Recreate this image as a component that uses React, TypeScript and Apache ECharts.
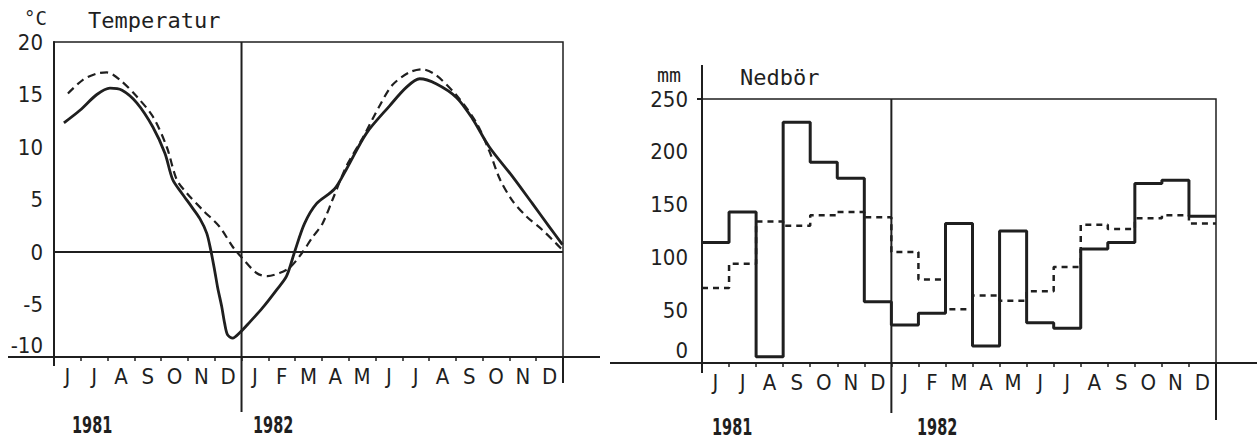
import React, { useEffect, useRef } from 'react';
import * as echarts from 'echarts';

// ---- data ----
const monthLabels = ['J', 'J', 'A', 'S', 'O', 'N', 'D', 'J', 'F', 'M', 'A', 'M', 'J', 'J', 'A', 'S', 'O', 'N', 'D'];
const yearLabels = ['1981', '1982'];

// temperature, [months since 1 June 1981, °C]
const tempMeasured: [number, number][] = [
  [0.37, 12.3], [0.97, 13.5], [1.6, 15.0], [2.09, 15.6], [2.54, 15.4], [3.09, 14.2], [3.69, 11.9],
  [4.14, 9.4], [4.43, 6.9], [4.77, 5.6], [5.14, 4.3], [5.44, 3.2], [5.7, 1.8], [5.85, 0.2],
  [6.0, -1.8], [6.11, -3.4], [6.26, -5.2], [6.37, -6.8], [6.48, -7.9], [6.67, -8.2], [6.93, -7.7],
  [7.3, -6.7], [7.79, -5.3], [8.31, -3.6], [8.68, -2.3], [8.98, 0], [9.35, 2.7], [9.8, 4.6],
  [10.47, 6.0], [10.92, 7.9], [11.66, 11.3], [12.52, 13.9], [13.16, 15.7], [13.65, 16.5],
  [14.28, 16.0], [15.03, 14.7], [15.62, 12.7], [16.25, 10.0], [17.11, 7.2], [17.86, 4.6],
  [18.49, 2.4], [18.98, 0.7],
];
const tempNormal: [number, number][] = [
  [0.52, 15.1], [1.08, 16.4], [1.6, 17.0], [1.97, 17.1], [2.46, 16.4], [3.09, 14.8], [3.69, 12.9],
  [4.21, 10.0], [4.58, 6.9], [4.96, 5.6], [5.55, 4.0], [6.18, 2.4], [6.67, 0.5], [6.93, -0.3],
  [7.56, -2.0], [7.97, -2.3], [8.42, -2.0], [8.79, -1.5], [9.17, -0.4], [9.65, 1.4], [10.02, 2.7],
  [10.4, 5.0], [10.92, 8.2], [11.51, 10.8], [12.15, 13.9], [12.63, 15.9], [13.26, 17.1],
  [13.75, 17.4], [14.28, 16.8], [15.03, 14.9], [15.77, 12.3], [16.25, 9.6], [16.65, 6.9],
  [17.11, 4.9], [17.63, 3.4], [18.23, 2.1], [18.75, 0.8], [18.98, 0.2],
];

// precipitation (mm) per month, Jun 1981 .. Dec 1982
const precipMeasured = [114, 143, 6, 228, 190, 175, 58, 36, 47, 132, 16, 125, 38, 33, 108, 114, 170, 173, 139];
const precipNormal = [71, 94, 134, 130, 140, 143, 138, 105, 79, 51, 64, 59, 68, 91, 131, 127, 137, 140, 132];

// ---- styling ----
const INK = '#1f1f1f';
const NARROW = "'Liberation Sans Narrow', 'DejaVu Sans Condensed', 'Liberation Sans', sans-serif";
const MONO = "'DejaVu Sans Mono', 'Liberation Mono', monospace";

const stepData = (vals: number[]) => [
  ...vals.map((v, i) => [i, v]),
  [vals.length, vals[vals.length - 1]],
];

const catAxis = (gridIndex: number) => ({
  type: 'category',
  gridIndex,
  data: monthLabels,
  boundaryGap: true,
  axisLine: { onZero: false, lineStyle: { color: INK, width: 2 } },
  axisTick: { show: true, length: 4, lineStyle: { color: INK, width: 1.5 } },
  axisLabel: { interval: 0, fontSize: 22, fontFamily: NARROW, color: INK, margin: 8 },
  splitLine: { show: false },
});

const valXAxis = (gridIndex: number) => ({
  type: 'value',
  gridIndex,
  min: 0,
  max: 19,
  show: false,
});

const yLabel = (low: number, raise: number) => ({
  fontSize: 22,
  fontFamily: NARROW,
  color: INK,
  formatter: (v: number) => (v === low ? `{r|${v}}` : `${v}`),
  rich: { r: { fontSize: 22, fontFamily: NARROW, color: INK, padding: [0, 0, raise, 0] } },
});

const option: any = {
  animation: false,
  backgroundColor: '#fff',
  grid: [
    { left: 54, top: 42, width: 509, height: 315, show: true, borderColor: INK, borderWidth: 1.5 },
    { left: 702, top: 99, width: 514, height: 264, show: true, borderColor: INK, borderWidth: 1.5 },
  ],
  xAxis: [catAxis(0), valXAxis(0), catAxis(1), valXAxis(1)],
  yAxis: [
    {
      type: 'value', gridIndex: 0, min: -10, max: 20, interval: 5,
      axisLine: { show: true, lineStyle: { color: INK, width: 2 } },
      axisTick: { show: false }, splitLine: { show: false },
      axisLabel: { ...yLabel(-10, 24), margin: 11 },
    },
    {
      type: 'value', gridIndex: 1, min: 0, max: 250, interval: 50,
      axisLine: { show: true, lineStyle: { color: INK, width: 2 } },
      axisTick: { show: false }, splitLine: { show: false },
      axisLabel: { ...yLabel(0, 26), margin: 14 },
    },
  ],
  series: [
    {
      name: 'Temperatur 1981-82', type: 'line', xAxisIndex: 1, yAxisIndex: 0,
      data: tempMeasured, smooth: 0.3, showSymbol: false, symbol: 'none',
      lineStyle: { color: INK, width: 2.8 },
      markLine: {
        silent: true, symbol: ['none', 'none'], label: { show: false },
        lineStyle: { color: INK, width: 2, type: 'solid' },
        data: [{ yAxis: 0 }],
      },
    },
    {
      name: 'Temperatur normal', type: 'line', xAxisIndex: 1, yAxisIndex: 0,
      data: tempNormal, smooth: 0.3, showSymbol: false, symbol: 'none',
      lineStyle: { color: INK, width: 2.2, type: [8, 5] },
    },
    {
      name: 'Nedbör 1981-82', type: 'line', xAxisIndex: 3, yAxisIndex: 1,
      data: stepData(precipMeasured), step: 'end', showSymbol: false, symbol: 'none',
      lineStyle: { color: INK, width: 3 },
    },
    {
      name: 'Nedbör normal', type: 'line', xAxisIndex: 3, yAxisIndex: 1,
      data: stepData(precipNormal), step: 'end', showSymbol: false, symbol: 'none',
      lineStyle: { color: INK, width: 2.5, type: [6, 5] },
    },
  ],
};

export default function App() {
  const ref = useRef<HTMLDivElement>(null);
  useEffect(() => {
    const el = ref.current;
    if (!el) return;
    const chart = echarts.init(el, null, { renderer: 'svg' });
    chart.setOption(option);

    const p = (s: number, x: number, y: number) =>
      chart.convertToPixel({ seriesIndex: s }, [x, y]) as number[];
    const ln = (x1: number, y1: number, x2: number, y2: number, w = 2) => ({
      type: 'line', silent: true,
      shape: { x1, y1, x2, y2 },
      style: { stroke: INK, lineWidth: w },
    });
    const tx = (text: string, x: number, y: number, size: number, family: string, sx = 1, weight = 'normal') => ({
      type: 'text', silent: true, x, y, scaleX: sx,
      style: {
        text, fontSize: size, fontFamily: family, fontWeight: weight, fill: INK,
        align: 'left', verticalAlign: 'middle',
      },
    });

    // left chart frame points
    const L0 = p(0, 0, -10), L19 = p(0, 19, -10), L7top = p(0, 7, 20), L19top = p(0, 19, 20);
    // right chart frame points
    const R0 = p(2, 0, 0), R19 = p(2, 19, 0), R0top = p(2, 0, 250), R7top = p(2, 7, 250);

    const graphic = [
      // left
      ln(8, L0[1], L0[0], L0[1]),
      ln(L19[0], L19[1], 600, L19[1]),
      ln(L0[0], L0[1], L0[0], L0[1] + 9),
      ln(L7top[0], L7top[1], L7top[0], 412),
      ln(L19top[0], L19[1], L19top[0], 383),
      // right
      ln(610, R0[1], R0[0], R0[1]),
      ln(R19[0], R19[1], 1257, R19[1]),
      ln(R0[0], 65, R0[0], R0top[1]),
      ln(R0[0], R0[1], R0[0], R0[1] + 10),
      ln(697, R0top[1], R0top[0], R0top[1]),
      ln(R7top[0], R7top[1], R7top[0], 413),
      ln(R19[0], R19[1], R19[0], 420),
      // titles
      tx('°C', 24, 18, 19, MONO),
      tx('Temperatur', 88, 20, 22, MONO),
      tx('mm', 657, 75, 20, MONO),
      tx('Nedbör', 740, 77, 22, MONO),
      // years
      tx(yearLabels[0], 72, 425, 23, NARROW, 0.7, 'bold'),
      tx(yearLabels[1], 253, 425, 23, NARROW, 0.7, 'bold'),
      tx(yearLabels[0], 712, 427, 23, NARROW, 0.7, 'bold'),
      tx(yearLabels[1], 917, 427, 23, NARROW, 0.7, 'bold'),
    ];
    chart.setOption({ graphic });
    return () => chart.dispose();
  }, []);
  return (
    <div
      ref={ref}
      style={{ position: 'fixed', left: 0, top: 0, width: 1257, height: 448, background: '#fff' }}
    />
  );
}
